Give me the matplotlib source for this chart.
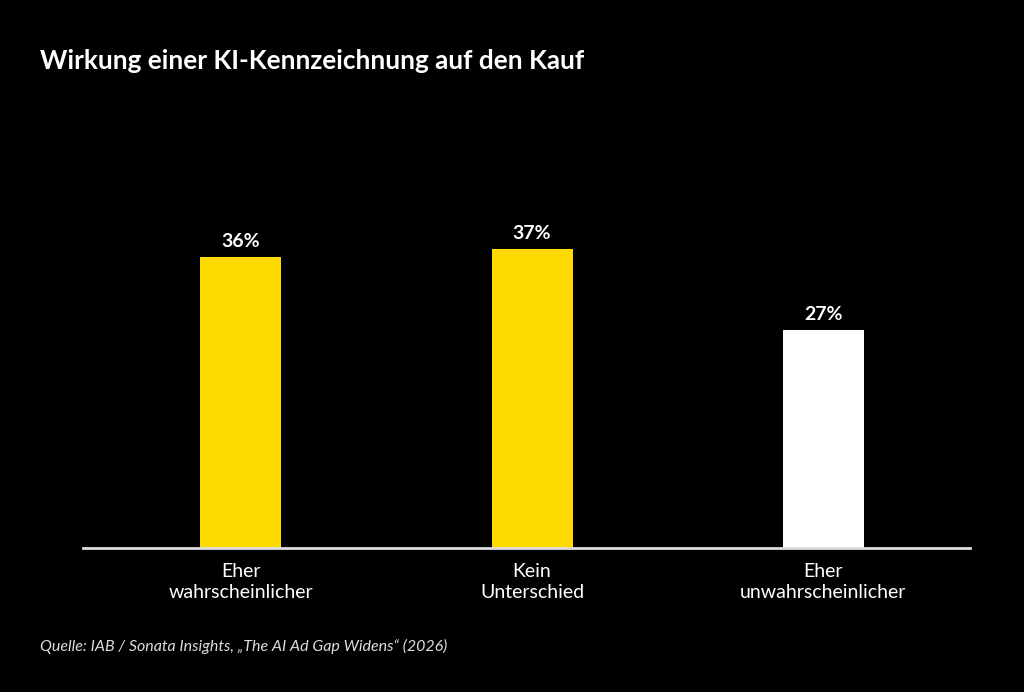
import matplotlib
matplotlib.use("Agg")
import matplotlib.pyplot as plt

# data
categories = ["Eher\nwahrscheinlicher", "Kein\nUnterschied", "Eher\nunwahrscheinlicher"]
values = [36, 37, 27]
colors = ["#FFDA00", "#FFDA00", "#FFFFFF"]
title = "Wirkung einer KI-Kennzeichnung auf den Kauf"
source = "Quelle: IAB / Sonata Insights, \u201eThe AI Ad Gap Widens\u201c (2026)"

plt.rcParams['font.family'] = ['Lato', 'DejaVu Sans']

W, H = 1024, 692
fig = plt.figure(figsize=(W / 100, H / 100), dpi=100, facecolor="black")
# axes: x 83..970 px, y 100..548 px
ax = fig.add_axes([83 / W, 1 - 548 / H, (970 - 83) / W, (548 - 100) / H])
ax.set_facecolor("black")

x = list(range(len(values)))
bars = ax.bar(x, values, width=0.278, color=colors)
for xi, v in zip(x, values):
    ax.annotate(f"{v}%", (xi, v), xytext=(0, 5), textcoords="offset points",
                ha="center", va="bottom", color="white", fontsize=14, fontweight="bold")

ax.set_xlim(-0.541, 2.503)
ax.set_ylim(0, 55.4)
for s in ["top", "right", "left"]:
    ax.spines[s].set_visible(False)
ax.spines["bottom"].set_color("#dddddd")
ax.spines["bottom"].set_linewidth(2)
ax.set_yticks([])
ax.set_xticks(x)
ax.set_xticklabels(categories, color="white", fontsize=14, linespacing=1.25)
ax.tick_params(axis="x", length=0, pad=11)

fig.text(40 / W, 1 - 61 / H, title, color="white", fontsize=18.8, fontweight="bold",
         ha="left", va="center")
fig.text(40 / W, 1 - 646 / H, source, color="#dddddd", fontsize=11.5, style="italic",
         ha="left", va="center")

fig.savefig("out.png", dpi=100, facecolor="black")
